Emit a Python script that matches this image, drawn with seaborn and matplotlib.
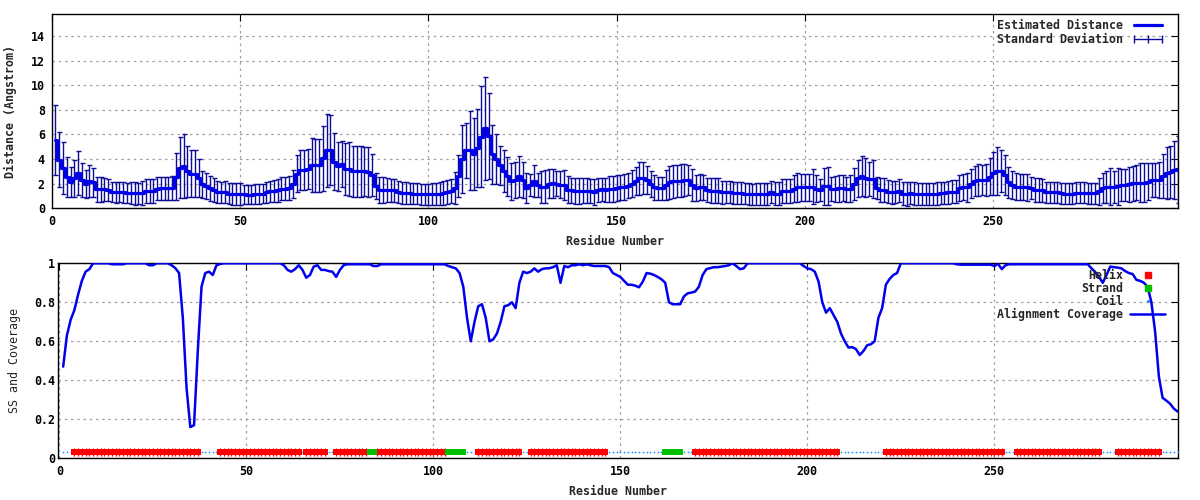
import numpy as np
import pandas as pd
import matplotlib
matplotlib.use("Agg")
import matplotlib.pyplot as plt
import seaborn as sns
from matplotlib.lines import Line2D

# ---------------- data ----------------
residues = list(range(1, 300))

est_distance = [
    5.55, 3.96, 3.25, 2.54, 2.15, 2.45, 2.85, 2.3, 1.97, 2.25,
    2.1, 1.55, 1.54, 1.54, 1.5, 1.35, 1.32, 1.3, 1.32, 1.25,
    1.22, 1.22, 1.22, 1.25, 1.4, 1.4, 1.4, 1.6, 1.62, 1.62,
    1.62, 1.65, 2.57, 3.3, 3.45, 3.0, 2.8, 2.8, 2.43, 1.97,
    1.8, 1.62, 1.5, 1.35, 1.3, 1.3, 1.2, 1.16, 1.16, 1.15,
    1.15, 1.12, 1.12, 1.15, 1.18, 1.2, 1.3, 1.4, 1.42, 1.45,
    1.6, 1.6, 1.65, 2.0, 2.8, 3.1, 3.1, 3.2, 3.5, 3.5,
    3.5, 4.05, 4.7, 4.75, 3.8, 3.4, 3.6, 3.2, 3.2, 3.0,
    3.0, 3.0, 3.0, 2.95, 2.7, 1.8, 1.5, 1.5, 1.5, 1.45,
    1.45, 1.3, 1.25, 1.25, 1.22, 1.2, 1.18, 1.15, 1.15, 1.15,
    1.14, 1.15, 1.17, 1.25, 1.35, 1.4, 1.65, 2.6, 4.0, 4.7,
    4.7, 4.4, 4.9, 5.8, 6.5, 5.9, 4.4, 4.0, 3.5, 3.0,
    2.6, 2.2, 2.3, 2.6, 2.3, 1.65, 1.9, 2.2, 1.9, 1.76,
    1.76, 2.0, 2.03, 2.0, 1.9, 1.9, 1.5, 1.45, 1.43, 1.43,
    1.43, 1.43, 1.4, 1.3, 1.5, 1.54, 1.5, 1.55, 1.6, 1.62,
    1.7, 1.75, 1.85, 2.0, 2.2, 2.45, 2.43, 2.3, 2.0, 1.7,
    1.62, 1.62, 1.9, 2.1, 2.2, 2.2, 2.25, 2.3, 2.3, 1.9,
    1.62, 1.7, 1.7, 1.5, 1.43, 1.43, 1.43, 1.3, 1.3, 1.3,
    1.22, 1.22, 1.22, 1.2, 1.15, 1.14, 1.14, 1.14, 1.14, 1.14,
    1.35, 1.2, 1.2, 1.4, 1.4, 1.4, 1.6, 1.7, 1.7, 1.7,
    1.7, 1.76, 1.6, 1.5, 1.8, 1.8, 1.57, 1.6, 1.62, 1.62,
    1.55, 1.6, 2.0, 2.43, 2.62, 2.5, 2.4, 2.4, 1.62, 1.5,
    1.49, 1.35, 1.3, 1.3, 1.43, 1.2, 1.16, 1.27, 1.2, 1.14,
    1.14, 1.14, 1.14, 1.14, 1.2, 1.22, 1.22, 1.3, 1.35, 1.35,
    1.62, 1.7, 1.7, 2.0, 2.2, 2.3, 2.3, 2.3, 2.57, 2.84,
    3.05, 3.05, 2.7, 2.1, 1.9, 1.76, 1.76, 1.76, 1.7, 1.65,
    1.5, 1.49, 1.45, 1.3, 1.3, 1.3, 1.3, 1.22, 1.2, 1.2,
    1.2, 1.25, 1.25, 1.25, 1.22, 1.22, 1.22, 1.4, 1.65, 1.76,
    1.76, 1.76, 1.8, 1.89, 1.89, 1.95, 2.03, 2.08, 2.08, 2.08,
    2.15, 2.3, 2.3, 2.3, 2.6, 2.85, 2.97, 3.1, 3.16,
]

std_dev = [
    2.87, 2.2, 2.1, 1.65, 1.2, 1.5, 1.81, 1.42, 1.15, 1.3,
    1.15, 1.0, 1.0, 0.95, 0.9, 0.8, 0.85, 0.8, 0.85, 0.78,
    0.9, 0.92, 0.85, 0.97, 0.95, 0.95, 0.98, 0.95, 0.95, 0.95,
    0.95, 0.95, 1.9, 2.5, 2.62, 2.1, 1.92, 1.92, 1.54, 1.1,
    1.05, 1.0, 1.0, 0.9, 0.85, 0.9, 0.88, 0.88, 0.88, 0.88,
    0.78, 0.78, 0.78, 0.8, 0.8, 0.8, 0.85, 0.85, 0.87, 0.9,
    0.95, 0.95, 1.0, 1.15, 1.5, 1.65, 1.6, 1.65, 2.2, 2.15,
    2.15, 2.65, 3.0, 2.85, 2.3, 2.0, 1.9, 2.1, 2.2, 2.05,
    2.05, 2.05, 2.0, 2.0, 1.7, 1.05, 1.05, 1.05, 0.95, 0.95,
    0.95, 0.9, 0.88, 0.87, 0.86, 0.85, 0.85, 0.85, 0.85, 0.86,
    0.9, 0.92, 0.93, 0.95, 0.97, 1.0, 1.3, 1.7, 2.75, 2.2,
    3.2, 2.9, 3.2, 4.1, 4.2, 3.5, 2.4, 2.0, 1.6, 1.7,
    1.6, 1.5, 1.5, 1.65, 1.5, 1.2, 0.9, 1.3, 1.0, 1.3,
    1.35, 1.2, 1.2, 1.0, 1.1, 1.2, 1.1, 1.0, 1.05, 1.05,
    1.0, 1.0, 1.0, 1.05, 1.0, 0.95, 1.0, 1.05, 1.05, 1.05,
    1.0, 1.05, 1.05, 1.1, 1.15, 1.35, 1.3, 1.1, 1.05, 1.0,
    0.95, 0.95, 1.2, 1.35, 1.35, 1.3, 1.35, 1.3, 1.25, 1.3,
    1.05, 1.05, 1.0, 1.0, 1.0, 1.0, 1.0, 0.95, 0.9, 0.9,
    0.9, 0.9, 0.88, 0.88, 0.88, 0.87, 0.9, 0.9, 0.9, 0.9,
    0.9, 0.9, 0.9, 0.95, 1.0, 1.0, 1.1, 1.2, 1.1, 1.1,
    1.1, 1.4, 1.1, 0.9, 1.5, 1.55, 1.0, 1.05, 1.1, 1.05,
    1.0, 1.1, 1.3, 1.5, 1.6, 1.6, 1.4, 1.55, 0.9, 0.95,
    0.95, 0.95, 0.95, 0.9, 0.95, 0.95, 0.95, 0.9, 0.9, 0.9,
    0.88, 0.88, 0.9, 0.9, 0.9, 0.9, 0.9, 0.92, 0.95, 0.95,
    1.05, 1.05, 1.15, 1.2, 1.2, 1.3, 1.2, 1.3, 1.5, 1.75,
    1.95, 1.7, 1.6, 1.25, 1.15, 1.1, 1.05, 1.05, 1.1, 0.9,
    0.95, 0.95, 0.95, 0.85, 0.85, 0.85, 0.85, 0.85, 0.85, 0.85,
    0.85, 0.85, 0.85, 0.85, 0.85, 0.85, 0.85, 1.1, 1.2, 1.3,
    1.5, 1.3, 1.5, 1.3, 1.3, 1.4, 1.4, 1.4, 1.6, 1.6,
    1.5, 1.4, 1.4, 1.5, 1.8, 2.1, 2.1, 2.35, 2.7,
]

coverage = [
    0.47, 0.63, 0.71, 0.76, 0.84, 0.91, 0.957, 0.97, 1.0, 1.0,
    1.0, 1.0, 1.0, 0.995, 0.995, 0.995, 0.995, 1.0, 1.0, 1.0,
    1.0, 1.0, 1.0, 0.99, 0.99, 1.0, 1.0, 1.0, 1.0, 0.99,
    0.975, 0.95, 0.72, 0.36, 0.16, 0.17, 0.55, 0.88, 0.95, 0.957,
    0.94, 0.99, 0.997, 1.0, 1.0, 1.0, 1.0, 1.0, 1.0, 1.0,
    1.0, 1.0, 1.0, 1.0, 1.0, 1.0, 1.0, 1.0, 1.0, 0.99,
    0.966, 0.957, 0.97, 0.99, 0.966, 0.926, 0.94, 0.983, 0.99, 0.966,
    0.966, 0.96, 0.957, 0.93, 0.966, 0.99, 0.995, 0.995, 0.995, 0.995,
    0.995, 0.995, 0.995, 0.986, 0.986, 0.995, 0.995, 0.995, 0.995, 0.995,
    0.995, 0.995, 0.995, 0.995, 0.995, 0.995, 0.995, 0.995, 0.995, 0.995,
    0.995, 0.995, 0.995, 0.986, 0.98, 0.974, 0.95, 0.88, 0.72, 0.6,
    0.7, 0.78, 0.79, 0.72, 0.6, 0.61, 0.64, 0.7, 0.78, 0.785,
    0.8, 0.77, 0.9, 0.957, 0.95, 0.957, 0.974, 0.957, 0.97, 0.974,
    0.975, 0.98, 0.99, 0.9, 0.986, 0.98, 0.99, 0.99, 0.995, 0.99,
    0.995, 0.99, 0.986, 0.986, 0.986, 0.986, 0.98, 0.95, 0.94, 0.93,
    0.91, 0.89, 0.89, 0.885, 0.877, 0.906, 0.95, 0.947, 0.94, 0.93,
    0.918, 0.9, 0.8, 0.79, 0.79, 0.79, 0.83, 0.846, 0.85, 0.855,
    0.88, 0.94, 0.97, 0.975, 0.98, 0.98, 0.983, 0.986, 0.99, 1.0,
    0.986, 0.97, 0.974, 1.0, 1.0, 1.0, 1.0, 1.0, 1.0, 1.0,
    1.0, 1.0, 1.0, 1.0, 1.0, 1.0, 1.0, 1.0, 0.986, 0.974,
    0.97, 0.957, 0.906, 0.8, 0.747, 0.77, 0.735, 0.7, 0.64, 0.6,
    0.568, 0.57, 0.56, 0.53, 0.55, 0.58, 0.585, 0.6, 0.72, 0.77,
    0.89, 0.92, 0.94, 0.95, 1.0, 1.0, 1.0, 1.0, 1.0, 1.0,
    1.0, 1.0, 1.0, 1.0, 1.0, 1.0, 1.0, 1.0, 1.0, 0.995,
    0.993, 0.993, 0.993, 0.993, 0.993, 0.993, 0.993, 0.993, 0.993, 0.986,
    0.997, 0.97, 0.99, 0.995, 0.995, 0.995, 0.995, 0.995, 0.995, 0.995,
    0.995, 0.995, 0.995, 0.995, 0.995, 0.995, 0.995, 0.995, 0.995, 0.995,
    0.995, 0.995, 0.995, 0.995, 0.995, 0.974, 0.955, 0.93, 0.9, 0.94,
    0.983, 0.98, 0.978, 0.974, 0.96, 0.95, 0.945, 0.915, 0.91, 0.9,
    0.88, 0.8, 0.65, 0.42, 0.31, 0.296, 0.28, 0.255, 0.24,
]

# secondary structure, run-length encoded (type, number of residues)
ss_runs = [
    ("C", 3), ("H", 34), ("C", 5), ("H", 22), ("C", 1), ("H", 6), ("C", 2),
    ("H", 9), ("E", 2), ("H", 19), ("E", 5), ("C", 3), ("H", 12), ("C", 2),
    ("H", 21), ("C", 15), ("E", 5), ("C", 3), ("H", 39), ("C", 12),
    ("H", 32), ("C", 3), ("H", 23), ("C", 4), ("H", 12), ("C", 5),
]

x_ticks = [0, 50, 100, 150, 200, 250]
top_y_ticks = [0, 2, 4, 6, 8, 10, 12, 14]
bot_y_ticks = [0, 0.2, 0.4, 0.6, 0.8, 1.0]
bot_y_labels = ["0", "0.2", "0.4", "0.6", "0.8", "1"]

# ---------------- style ----------------
sns.set_theme(style="white")
FS = 8.4
plt.rcParams["font.family"] = ["DejaVu Sans Mono"]
plt.rcParams["font.weight"] = "bold"
plt.rcParams["font.size"] = FS
plt.rcParams["axes.labelweight"] = "bold"
plt.rcParams["axes.labelsize"] = FS

LINE_BLUE = "#0000ee"
BAR_BLUE = "#0c0c96"
GRID = "#a0a0a0"

ss_seq = "".join(t * n for t, n in ss_runs)
df_top = pd.DataFrame({"res": residues, "dist": est_distance, "sd": std_dev})
df_bot = pd.DataFrame({"res": residues, "cov": coverage, "ss": list(ss_seq)})

fig = plt.figure(figsize=(12, 5), dpi=100)
ax1 = fig.add_axes([51.7 / 1200, 1 - 208.3 / 500, 1126.6 / 1200, 194 / 500])
ax2 = fig.add_axes([58.3 / 1200, 1 - 458.3 / 500, 1120 / 1200, 195 / 500])


def style_axes(ax, ypad):
    for s in ax.spines.values():
        s.set_color("black")
        s.set_linewidth(1.0)
        s.set_visible(True)
    ax.tick_params(direction="in", length=5, width=0.8, top=True, right=True,
                   colors="black", labelsize=FS)
    ax.tick_params(axis="y", pad=ypad)
    ax.tick_params(axis="x", pad=5)
    ax.grid(True, color=GRID, linestyle=(0, (2, 3)), linewidth=0.9)
    ax.set_axisbelow(True)
    for lab in ax.get_xticklabels() + ax.get_yticklabels():
        lab.set_fontweight("bold")


# ---------------- top panel ----------------
ax1.errorbar(df_top["res"], df_top["dist"], yerr=df_top["sd"], fmt="none",
             ecolor=BAR_BLUE, elinewidth=1.0, capsize=1.8, capthick=1.0, zorder=2)
sns.lineplot(data=df_top, x="res", y="dist", ax=ax1, color=LINE_BLUE,
             linewidth=2.3, drawstyle="steps-mid", estimator=None, zorder=3)
ax1.set_xlim(0, 299.1)
ax1.set_ylim(0, 15.76)
ax1.set_xticks(x_ticks)
ax1.set_yticks(top_y_ticks)
ax1.set_xlabel("Residue Number", fontweight="bold", fontsize=FS, labelpad=5)
ax1.set_ylabel("Distance (Angstrom)", fontweight="bold", fontsize=FS, labelpad=10)
style_axes(ax1, 5)

h1 = [Line2D([], [], color=LINE_BLUE, lw=2.3),
      Line2D([], [], color=BAR_BLUE, lw=1.0, marker="|", markersize=6,
             markeredgewidth=1.0)]
ax1.legend(h1, ["Estimated Distance", "Standard Deviation"], loc="upper right",
           bbox_to_anchor=(0.9885, 0.975), frameon=False, markerfirst=False,
           numpoints=3, handlelength=3.0, handletextpad=0.6, labelspacing=0.05,
           borderpad=0, borderaxespad=0, prop={"weight": "bold", "size": FS})

# ---------------- bottom panel ----------------
sns.lineplot(data=df_bot, x="res", y="cov", ax=ax2, color=LINE_BLUE,
             linewidth=1.8, estimator=None, zorder=3)
SS_Y = 0.03
coil = df_bot[df_bot["ss"] == "C"]
helix = df_bot[df_bot["ss"] == "H"]
strand = df_bot[df_bot["ss"] == "E"]
ax2.scatter(coil["res"], [SS_Y] * len(coil), s=1.6, marker="o",
            color="#1e90ff", linewidths=0, zorder=4)
ax2.scatter(helix["res"], [SS_Y] * len(helix), s=17, marker="s",
            color="#ff0000", linewidths=0, zorder=4)
ax2.scatter(helix["res"], [SS_Y] * len(helix), s=30, marker="|",
            color="#ff0000", linewidths=1.0, zorder=4)
ax2.scatter(strand["res"], [SS_Y] * len(strand), s=24, marker="s",
            color="#00c000", linewidths=0, zorder=5)
ax2.set_xlim(-0.3, 299.2)
ax2.set_ylim(0, 1)
ax2.set_xticks(x_ticks)
ax2.set_yticks(bot_y_ticks)
ax2.set_yticklabels(bot_y_labels)
ax2.set_xlabel("Residue Number", fontweight="bold", fontsize=FS, labelpad=5)
ax2.set_ylabel("SS and Coverage", fontweight="normal", fontsize=FS, labelpad=9)
style_axes(ax2, 2.5)

h2 = [Line2D([], [], color="#ff0000", lw=0, marker="s", markersize=4),
      Line2D([], [], color="#00c000", lw=0, marker="s", markersize=5),
      Line2D([], [], color="#1e90ff", lw=0, marker="o", markersize=1.2),
      Line2D([], [], color=LINE_BLUE, lw=1.8)]
ax2.legend(h2, ["Helix", "Strand", "Coil", "Alignment Coverage"],
           loc="upper right", bbox_to_anchor=(0.9885, 0.972), frameon=False,
           markerfirst=False, numpoints=1, handlelength=3.0, handletextpad=0.6,
           labelspacing=0.0, borderpad=0, borderaxespad=0,
           prop={"weight": "bold", "size": FS})

fig.savefig("out.png", dpi=100)
